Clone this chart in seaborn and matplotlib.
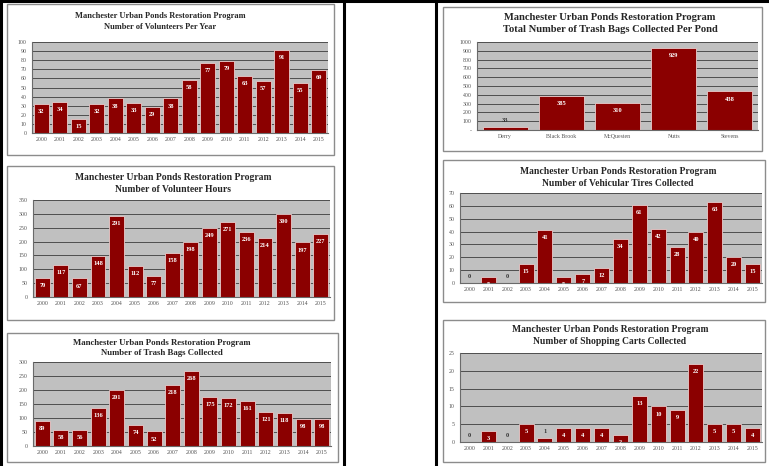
import matplotlib
matplotlib.use("Agg")
import matplotlib.pyplot as plt
import seaborn as sns
import numpy as np
from matplotlib.patches import Rectangle
from matplotlib.lines import Line2D

# data
years = ["2000", "2001", "2002", "2003", "2004", "2005", "2006", "2007",
         "2008", "2009", "2010", "2011", "2012", "2013", "2014", "2015"]
volunteers = [32, 34, 15, 32, 38, 33, 29, 38, 58, 77, 79, 63, 57, 91, 55, 69]
hours = [70, 117, 67, 148, 291, 112, 77, 158, 198, 249, 271, 236, 214, 300, 197, 227]
trash_bags = [89, 58, 56, 136, 201, 74, 52, 218, 268, 175, 172, 161, 121, 118, 98, 98]
ponds = ["Derry", "Black Brook", "McQuesten", "Nutts", "Stevens"]
bags_per_pond = [33, 385, 310, 929, 438]
tires = [0, 5, 0, 15, 41, 5, 7, 12, 34, 61, 42, 28, 40, 63, 20, 15]
carts = [0, 3, 0, 5, 1, 4, 4, 4, 2, 13, 10, 9, 22, 5, 5, 4]

program = "Manchester Urban Ponds Restoration Program"

W, H = 769, 466
BAR = "#8b0000"
SERIF = "Liberation Serif"

sns.set_style("white")
fig = plt.figure(figsize=(W / 100, H / 100), dpi=100)


def fx(x):
    return x / W


def fy(y):
    return 1 - y / H


def panel(box, plot, title_x, title_y, title_size, subtitle, cats, vals, ymax, ystep, dash_zero=False):
    # chart frame
    l, t, r, b = box
    fig.add_artist(Rectangle((fx(l), fy(b)), (r - l) / W, (b - t) / H, transform=fig.transFigure,
                             fill=False, edgecolor="#8c8c8c", lw=1.0))
    fig.text(fx(title_x), fy(title_y[0]), program, ha="center", va="center", fontsize=title_size,
             fontweight="bold", family=SERIF, color="#262626")
    fig.text(fx(title_x), fy(title_y[1]), subtitle, ha="center", va="center", fontsize=title_size,
             fontweight="bold", family=SERIF, color="#262626")

    l, t, r, b = plot
    ax = fig.add_axes([fx(l), fy(b), (r - l) / W, (b - t) / H])
    sns.barplot(x=cats, y=vals, order=cats, color=BAR, saturation=1, width=0.8,
                edgecolor="#e8cccc", linewidth=0.6, ax=ax)
    ax.set_facecolor("#c0c0c0")
    ax.set_xlim(-0.5, len(cats) - 0.5)
    ax.set_ylim(0, ymax)
    yt = np.arange(0, ymax + 1, ystep)
    ax.set_yticks(yt)
    ylabels = [str(v) for v in yt]
    if dash_zero:
        ylabels[0] = "-"
    ax.set_yticklabels(ylabels)
    ax.yaxis.grid(True, color="#3c3c3c", lw=0.6)
    ax.set_axisbelow(True)
    for s in ["top", "right"]:
        ax.spines[s].set_visible(False)
    for s in ["left", "bottom"]:
        ax.spines[s].set_color("#6a6a6a")
        ax.spines[s].set_linewidth(0.8)
    ax.set_xticks(np.arange(len(cats) + 1) - 0.5, minor=True)
    ax.tick_params(axis="x", which="major", length=0, pad=3, labelsize=4.2, labelcolor="#555555")
    ax.tick_params(axis="x", which="minor", length=2.5, width=0.6, color="#6a6a6a")
    ax.tick_params(axis="y", length=2.5, width=0.6, color="#6a6a6a", pad=1.5, labelsize=4.2,
                   labelcolor="#555555")
    for lab in ax.get_xticklabels() + ax.get_yticklabels():
        lab.set_family(SERIF)
    ax.set_xlabel("")
    ax.set_ylabel("")

    for i, v in enumerate(vals):
        if v / ymax < 0.05:
            ax.annotate(str(v), (i, v), xytext=(0, 3), textcoords="offset points", ha="center",
                        va="bottom", fontsize=4.6, fontweight="bold", family=SERIF, color="#333333")
        else:
            ax.annotate(str(v), (i, v), xytext=(0, -5.5), textcoords="offset points", ha="center",
                        va="center", fontsize=4.6, fontweight="bold", family=SERIF, color="white")
    return ax


panel((7, 4, 334, 155), (32, 42, 328, 133), 160, (16, 27), 6.0,
      "Number of Volunteers Per Year", years, volunteers, 100, 10)
panel((7, 166, 334, 320), (33, 200, 330, 297), 173, (178, 190), 6.9,
      "Number of Volunteer Hours", years, hours, 350, 50)
panel((7, 333, 338, 462), (33, 362, 331, 446), 162, (343, 353), 6.3,
      "Number of Trash Bags Collected", years, trash_bags, 300, 50)
panel((443, 7, 762, 151), (477, 42, 758, 130), 610, (18, 29), 7.6,
      "Total Number of Trash Bags Collected Per Pond", ponds, bags_per_pond, 1000, 100, dash_zero=True)
panel((443, 160, 765, 302), (460, 193, 762, 283), 618, (172, 183), 6.9,
      "Number of Vehicular Tires Collected", years, tires, 70, 10)
panel((443, 320, 765, 462), (460, 353, 762, 442), 610, (330, 342), 6.9,
      "Number of Shopping Carts Collected", years, carts, 25, 5)

# page borders of the scanned document
for x in [1, 344, 436]:
    fig.add_artist(Line2D([fx(x), fx(x)], [0, 1], color="black", lw=2.2, transform=fig.transFigure))
fig.add_artist(Line2D([0, 1], [fy(1), fy(1)], color="black", lw=2.2, transform=fig.transFigure))

fig.savefig("out.png", dpi=100)
